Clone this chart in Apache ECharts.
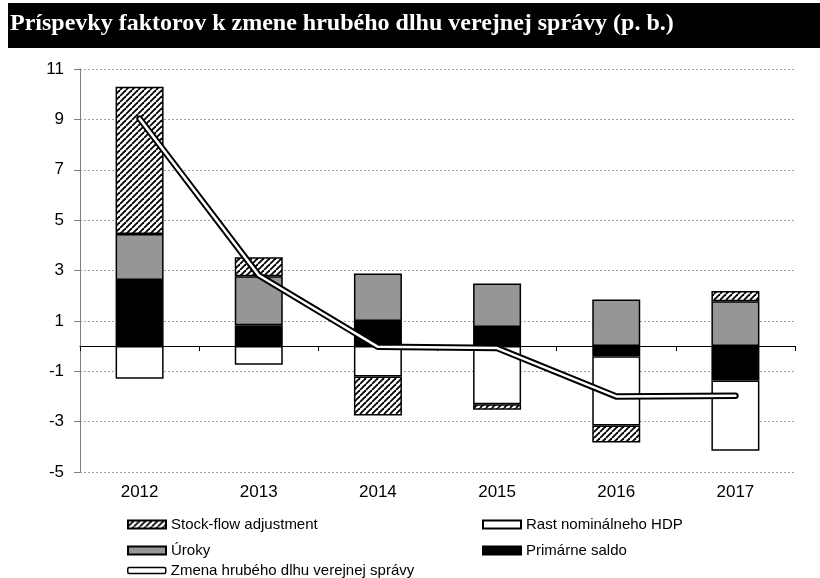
<!DOCTYPE html>
<html>
<head>
<meta charset="utf-8">
<script src="https://cdn.jsdelivr.net/npm/echarts@6/dist/echarts.min.js"></script>
<style>
  html, body { margin: 0; padding: 0; background: #fff; }
  #chart { width: 820px; height: 578px; }
</style>
</head>
<body>
<div id="chart"></div>
<script>
  // roky
  var years = ['2012', '2013', '2014', '2015', '2016', '2017'];
  var yTicks = [-5, 11, 2]; // min, max, krok
  // prispevky faktorov (p. b.)
  var primarneSaldo = [2.62, 0.83, 1.0, 0.76, -0.4, -1.37];
  var uroky = [1.83, 1.94, 1.88, 1.72, 1.85, 1.78];
  var rastHdp = [-1.3, -0.74, -1.21, -2.31, -2.75, -2.79];
  var sfa = [5.85, 0.76, -1.55, -0.22, -0.68, 0.41];
  // zmena hrubeho dlhu
  var zmena = [9.03, 2.81, -0.03, -0.08, -2.0, -1.97];

  var font = '"Liberation Sans", Arial, sans-serif';

  // sraffovanie pre stock-flow
  function hatch() {
    var s = 6;
    var c = document.createElement('canvas');
    c.width = s;
    c.height = s;
    var ctx = c.getContext('2d');
    ctx.fillStyle = '#fff';
    ctx.fillRect(0, 0, s, s);
    ctx.strokeStyle = '#000';
    ctx.lineWidth = 1.8;
    for (var k = -1; k <= 1; k++) {
      ctx.beginPath();
      ctx.moveTo(k * s, s);
      ctx.lineTo(k * s + s, 0);
      ctx.stroke();
    }
    return c;
  }

  var myChart = echarts.init(document.getElementById('chart'));

  var barBase = {
    type: 'bar',
    stack: 'f',
    barWidth: 48,
    xAxisIndex: 0
  };

  var legendText = { fontFamily: font, fontSize: 15, color: '#000' };

  var option = {
    animation: false,
    graphic: [{
      type: 'rect',
      shape: { x: 8, y: 3, width: 812, height: 45 },
      style: { fill: '#000' }
    }, {
      type: 'text',
      left: 10,
      top: 12,
      style: {
        text: 'Príspevky faktorov k zmene hrubého dlhu verejnej správy (p. b.)',
        fill: '#fff',
        font: 'bold 24px "Liberation Serif", "Times New Roman", serif'
      }
    }],
    grid: {
      left: 80,
      right: 25,
      top: 69,
      bottom: 106
    },
    legend: [{
      orient: 'vertical',
      left: 122,
      top: 512,
      itemWidth: 38,
      itemHeight: 8,
      itemGap: 11,
      icon: 'rect',
      textStyle: legendText,
      data: ['Stock-flow adjustment', 'Úroky']
    }, {
      orient: 'vertical',
      left: 477,
      top: 512,
      itemWidth: 38,
      itemHeight: 8,
      itemGap: 11,
      icon: 'rect',
      textStyle: legendText,
      data: ['Rast nominálneho HDP', 'Primárne saldo']
    }, {
      left: 122,
      top: 558,
      itemWidth: 38,
      itemHeight: 6,
      textStyle: legendText,
      data: [{
        name: 'Zmena hrubého dlhu verejnej správy',
        icon: 'roundRect',
        itemStyle: { color: '#fff', borderColor: '#000', borderWidth: 1.5 }
      }]
    }],
    xAxis: [{
      type: 'category',
      data: years,
      position: 'bottom',
      axisLine: { show: false, onZero: false },
      axisTick: { show: false },
      axisLabel: { fontFamily: font, fontSize: 17, color: '#000', margin: 12 }
    }, {
      // os na nule s ciarkami medzi rokmi
      type: 'category',
      data: years,
      position: 'top',
      axisLine: { show: true, onZero: true, lineStyle: { color: '#000', width: 1 } },
      axisTick: { show: true, inside: true, length: 5, lineStyle: { color: '#000' } },
      axisLabel: { show: false }
    }],
    yAxis: {
      type: 'value',
      min: yTicks[0],
      max: yTicks[1],
      interval: yTicks[2],
      axisLine: { show: true, lineStyle: { color: '#808080' } },
      axisTick: { show: true, length: 6, lineStyle: { color: '#808080' } },
      axisLabel: { fontFamily: font, fontSize: 17, color: '#000', margin: 16 },
      splitLine: { lineStyle: { color: '#a0a0a0', type: [2, 2] } }
    },
    series: [
      Object.assign({}, barBase, {
        name: 'Primárne saldo',
        data: primarneSaldo,
        itemStyle: { color: '#000', borderColor: '#000', borderWidth: 1.5 }
      }),
      Object.assign({}, barBase, {
        name: 'Úroky',
        data: uroky,
        itemStyle: { color: '#969696', borderColor: '#000', borderWidth: 1.5 }
      }),
      Object.assign({}, barBase, {
        name: 'Rast nominálneho HDP',
        data: rastHdp,
        itemStyle: { color: '#fff', borderColor: '#000', borderWidth: 1.5 }
      }),
      Object.assign({}, barBase, {
        name: 'Stock-flow adjustment',
        data: sfa,
        itemStyle: { color: { image: hatch(), repeat: 'repeat' }, borderColor: '#000', borderWidth: 1.5 }
      }),
      {
        name: 'Zmena hrubého dlhu verejnej správy',
        type: 'line',
        data: zmena,
        xAxisIndex: 0,
        showSymbol: false,
        z: 5,
        lineStyle: { color: '#000', width: 6.5, cap: 'round', join: 'round' },
        itemStyle: { color: '#000' }
      },
      {
        // biely stred dvojitej ciary
        name: 'zmena-stred',
        type: 'line',
        data: zmena,
        xAxisIndex: 0,
        showSymbol: false,
        z: 6,
        lineStyle: { color: '#fff', width: 2.5, cap: 'round', join: 'round' },
        itemStyle: { color: '#fff' }
      }
    ]
  };

  myChart.setOption(option);
</script>
</body>
</html>
